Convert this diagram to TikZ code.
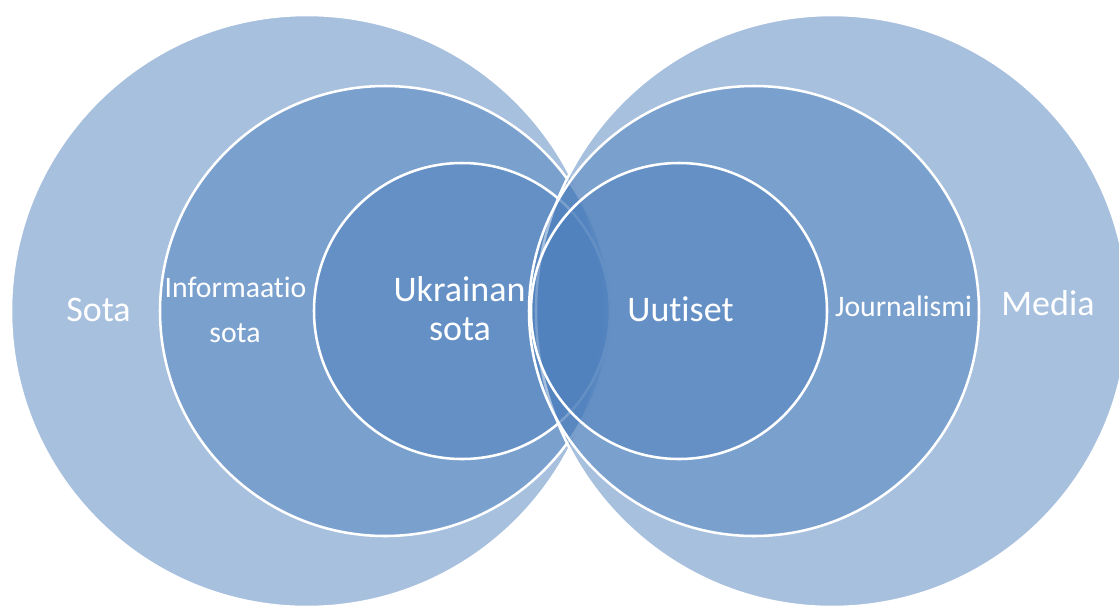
\documentclass[tikz,border=0pt]{standalone}
\usepackage{fontspec}
\setmainfont{Carlito}[RawFeature={-liga}]
\definecolor{acc}{HTML}{4F81BD}
\begin{document}
\begin{tikzpicture}[x=0.75pt,y=-0.75pt,
  ring/.style={circle, inner sep=0pt, outer sep=0pt, fill=acc, fill opacity=0.5,
    draw=white, draw opacity=1, line width=1.9pt},
  bigring/.style={ring, minimum size=444pt},
  midring/.style={ring, minimum size=337.5pt},
  smallring/.style={ring, minimum size=222pt},
  biglabel/.style={text=white, font=\fontsize{27}{32}\selectfont, anchor=base, inner sep=0pt},
  midlabel/.style={text=white, font=\fontsize{22.3}{27}\selectfont, anchor=base, inner sep=0pt}]
\useasboundingbox (0,0) rectangle (1119,608);
% left group
\node[bigring] (bigL) at (307,311) {};
\node[midring] (midL) at (385,311) {};
\node[smallring] (smallL) at (462,311) {};
% right group
\node[bigring] (bigR) at (832,311) {};
\node[midring] (midR) at (754,311) {};
\node[smallring] (smallR) at (679,311) {};
% labels
\node[biglabel] (sota) at (98.5,321.5) {Sota};
\node[midlabel] (info1) at (235.5,297) {Informaatio};
\node[midlabel] (info2) at (235,342) {sota};
\node[biglabel] (ukr1) at (459.5,301.5) {Ukrainan};
\node[biglabel] (ukr2) at (460,340) {sota};
\node[biglabel] (uut) at (680.5,321) {Uutiset};
\node[midlabel] (jour) at (903.5,316) {Journalismi};
\node[biglabel] (media) at (1048,315) {Media};
\end{tikzpicture}
\end{document}
